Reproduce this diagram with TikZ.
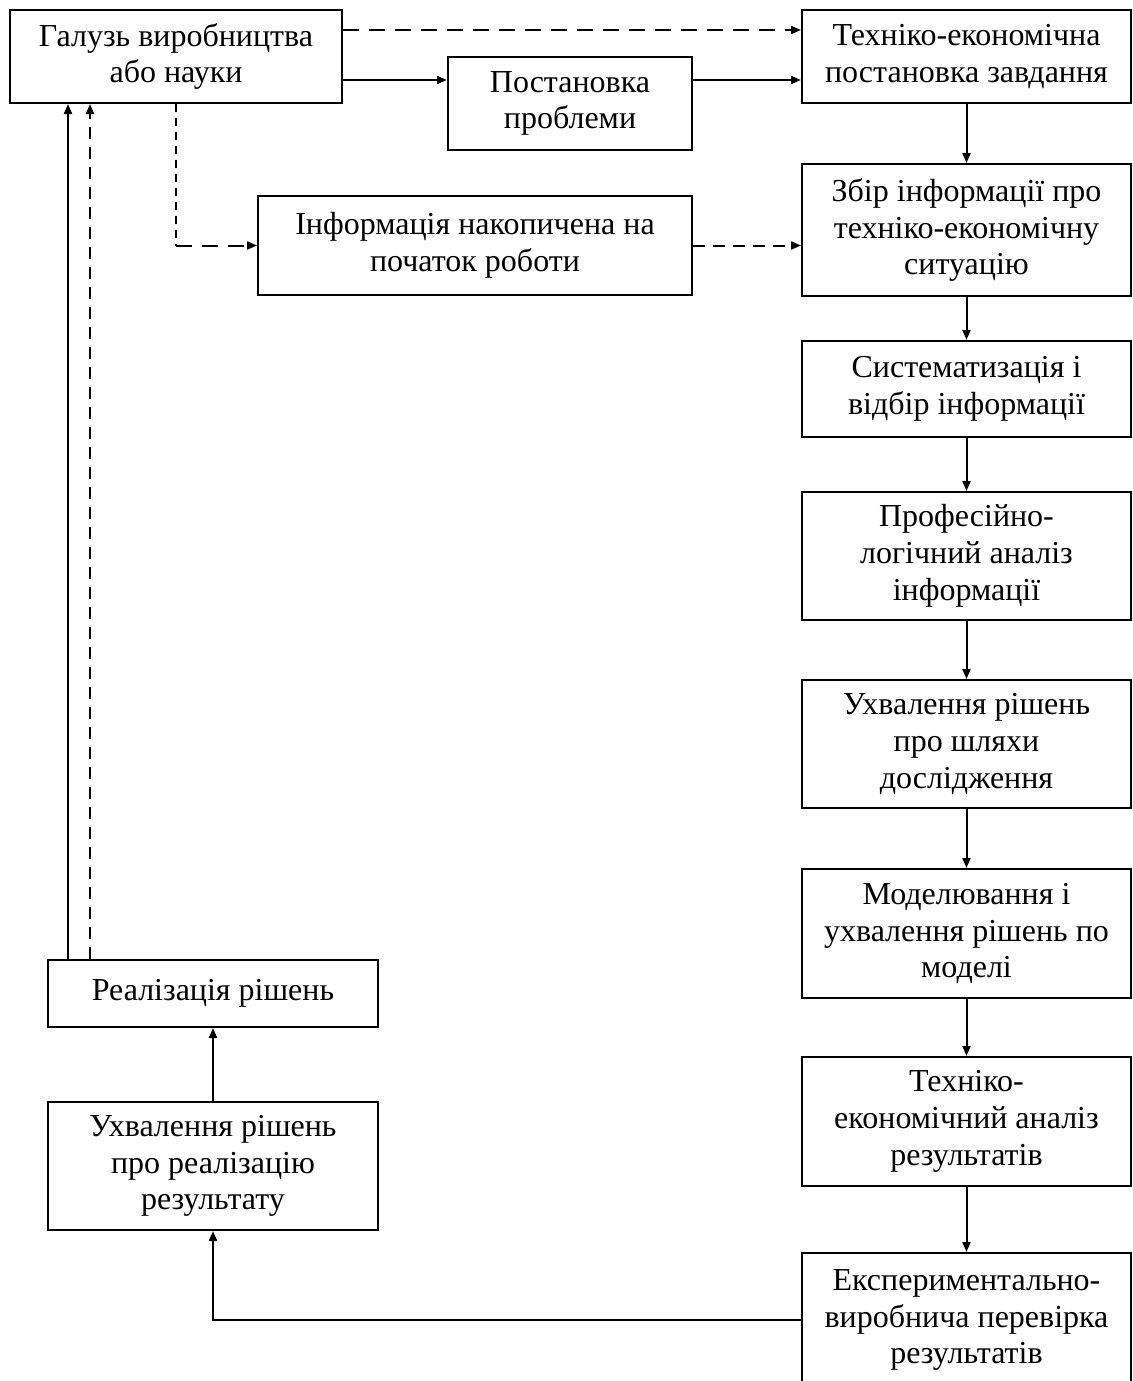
\documentclass[tikz,border=0pt]{standalone}
\usepackage{fontspec}
\setmainfont{Liberation Serif}
\usetikzlibrary{arrows.meta}
\tikzset{
  blk/.style={draw, line width=1pt, align=center, inner sep=0pt,
    font=\fontsize{16pt}{18.4pt}\selectfont},
  arr/.style={line width=1pt, -{Triangle[length=5pt,width=4pt]}},
  longdash/.style={arr, dash pattern=on 8pt off 5pt},
  shortdash/.style={arr, dash pattern=on 6pt off 4pt},
  finedash/.style={line width=.6pt, dash pattern=on 4pt off 3pt},
}
\begin{document}
\begin{tikzpicture}[x=.5pt,y=-.5pt]
\useasboundingbox (0,0) rectangle (1133,1381);
% left part
\node[blk, minimum width=166pt, minimum height=46.5pt] (galuz) at (176,56.5) {Галузь виробництва\\або науки};
\node[blk, minimum width=122pt, minimum height=46.5pt] (post) at (570,103.5) {Постановка\\проблеми};
\node[blk, minimum width=217pt, minimum height=49.5pt] (info) at (475,245.5) {Інформація накопичена на\\початок роботи};
\node[blk, minimum width=165pt, minimum height=33.5pt] (real) at (213,993.5) {Реалізація рішень};
\node[blk, minimum width=165pt, minimum height=64pt] (uhv) at (213,1166) {Ухвалення рішень\\про реалізацію\\результату};
% right column
\node[blk, minimum width=164.5pt, minimum height=46.5pt] (tech) at (966.5,56.5) {Техніко-економічна\\постановка завдання};
\node[blk, minimum width=164.5pt, minimum height=66pt] (zbir) at (966.5,230) {Збір інформації про\\техніко-економічну\\ситуацію};
\node[blk, minimum width=164.5pt, minimum height=48pt] (syst) at (966.5,389) {Систематизація і\\відбір інформації};
\node[blk, minimum width=164.5pt, minimum height=64pt] (prof) at (966.5,556) {Професійно-\\логічний аналіз\\інформації};
\node[blk, minimum width=164.5pt, minimum height=64pt] (shl) at (966.5,744) {Ухвалення рішень\\про шляхи\\дослідження};
\node[blk, minimum width=164.5pt, minimum height=64.5pt] (model) at (966.5,933.5) {Моделювання і\\ухвалення рішень по\\моделі};
\node[blk, minimum width=164.5pt, minimum height=64.5pt] (anal) at (966.5,1121.5) {Техніко-\\економічний аналіз\\результатів};
\node[blk, minimum width=164.5pt, minimum height=67pt] (exper) at (966.5,1320) {Експериментально-\\виробнича перевірка\\результатів};
% helper points
\coordinate (top) at ([yshift=-10.5pt]galuz.north east);
\coordinate (mid) at ([yshift=-11.75pt]galuz.east);
\coordinate (bend) at (galuz.south |- info.west);
\coordinate (up1) at ([xshift=10.5pt]real.north west);
\coordinate (up2) at ([xshift=21.5pt]real.north west);
% connectors
\draw[longdash] (top) -- (top -| tech.west);
\draw[arr] (mid) -- (mid -| post.west);
\draw[arr] (mid -| post.east) -- (mid -| tech.west);
\draw[finedash] (galuz.south) -- (bend);
\draw[longdash] (bend) -- (info.west);
\draw[shortdash] (info.east) -- (info.east -| zbir.west);
\foreach \a/\b in {tech/zbir, zbir/syst, syst/prof, prof/shl, shl/model, model/anal, anal/exper}
  \draw[arr] (\a) -- (\b);
\draw[arr] (exper.west) -| (uhv.south);
\draw[arr] (uhv.north) -- (real.south);
\draw[arr] (up1) -- (up1 |- galuz.south);
\draw[shortdash] (up2) -- (up2 |- galuz.south);
\end{tikzpicture}
\end{document}
